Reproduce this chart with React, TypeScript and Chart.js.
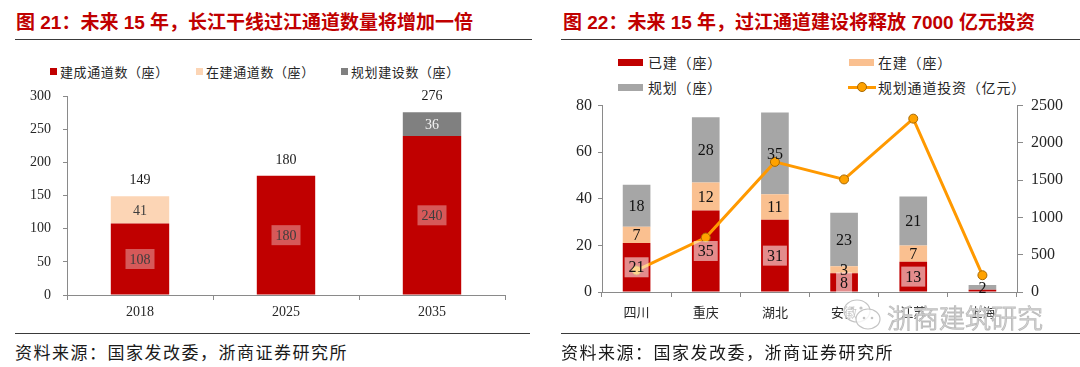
import React, { useEffect, useRef } from 'react';
import { Chart, registerables } from 'chart.js';

Chart.register(...registerables);

// ---------- data ----------
const leftTitle = '图 21：未来 15 年，长江干线过江通道数量将增加一倍';
const rightTitle = '图 22：未来 15 年，过江通道建设将释放 7000 亿元投资';
const sourceText = '资料来源：国家发改委，浙商证券研究所';

const years = ['2018', '2025', '2035'];
const builtCount = [108, 180, 240];
const buildingCount = [41, 0, 0];
const plannedCount = [0, 0, 36];
const leftSeriesNames = ['建成通道数（座）', '在建通道数（座）', '规划建设数（座）'];
const leftYMax = 300;
const leftYStep = 50;

const provinces = ['四川', '重庆', '湖北', '安徽', '江苏', '上海'];
const builtByProvince = [21, 35, 31, 8, 13, 1];
const buildingByProvince = [7, 12, 11, 3, 7, 0];
const plannedByProvince = [18, 28, 35, 23, 21, 2];
const investmentByProvince = [290, 730, 1745, 1510, 2325, 225];
const rightSeriesNames = ['已建（座）', '在建（座）', '规划（座）', '规划通道投资（亿元）'];
const rightYMax = 80;
const rightYStep = 20;
const rightY1Max = 2500;
const rightY1Step = 500;

// ---------- styles ----------
const RED = '#C00000';
const PEACH_L = '#FCD5B5';
const GRAY_L = '#808080';
const PEACH_R = '#FAC090';
const GRAY_R = '#A6A6A6';
const ORANGE = '#FF9900';
const AXIS = '#8a8a8a';
const TEXT = '#262626';
const SERIF = '"Liberation Serif", "Times New Roman", serif';
const CJK = '"Noto Sans CJK SC", sans-serif';

type LabelStyle = { box: string | null; color: string };

function makeLabelPlugin(cfg: {
  styles: LabelStyle[];
  font: string;
  boxH: number;
  padX: number;
  totals: boolean;
  totalOffset: number;
}) {
  return {
    id: 'valueLabels',
    afterDatasetsDraw(chart: any) {
      const ctx = chart.ctx;
      ctx.save();
      ctx.font = cfg.font;
      ctx.textAlign = 'center';
      ctx.textBaseline = 'middle';
      chart.data.datasets.forEach((ds: any, di: number) => {
        if (ds.type === 'line') return;
        const st = cfg.styles[di];
        const meta = chart.getDatasetMeta(di);
        meta.data.forEach((el: any, i: number) => {
          const v = ds.data[i];
          if (!v) return;
          const p = el.getProps(['x', 'y', 'base'], true);
          const h = Math.abs(p.base - p.y);
          if (h < 4) return;
          const cy = (p.y + p.base) / 2;
          const text = String(v);
          const tw = ctx.measureText(text).width;
          if (st.box) {
            ctx.fillStyle = st.box;
            ctx.fillRect(p.x - tw / 2 - cfg.padX, cy - cfg.boxH / 2, tw + cfg.padX * 2, cfg.boxH);
          }
          ctx.fillStyle = st.color;
          ctx.fillText(text, p.x, cy + 1);
        });
      });
      if (cfg.totals) {
        const n = chart.data.labels.length;
        const yScale = chart.scales.y;
        const meta0 = chart.getDatasetMeta(0);
        for (let i = 0; i < n; i++) {
          let sum = 0;
          chart.data.datasets.forEach((ds: any) => {
            if (ds.type !== 'line') sum += ds.data[i] || 0;
          });
          const x = meta0.data[i].x;
          const y = yScale.getPixelForValue(sum) - cfg.totalOffset;
          ctx.fillStyle = '#1a1a1a';
          ctx.fillText(String(sum), x, y);
        }
      }
      ctx.restore();
    },
  };
}

const plainTick = (v: any) => String(v);

function LeftChart() {
  const ref = useRef<HTMLCanvasElement>(null);
  useEffect(() => {
    const chart = new Chart(ref.current!, {
      type: 'bar',
      data: {
        labels: years,
        datasets: [
          { label: leftSeriesNames[0], data: builtCount, backgroundColor: RED },
          { label: leftSeriesNames[1], data: buildingCount, backgroundColor: PEACH_L },
          { label: leftSeriesNames[2], data: plannedCount, backgroundColor: GRAY_L },
        ],
      },
      options: {
        animation: false,
        responsive: false,
        maintainAspectRatio: false,
        layout: { padding: { top: 0, right: 25, left: 0, bottom: 0 } },
        datasets: { bar: { categoryPercentage: 1, barPercentage: 0.4 } },
        plugins: { legend: { display: false }, tooltip: { enabled: false } },
        scales: {
          x: {
            stacked: true,
            grid: { offset: true, drawOnChartArea: false, drawTicks: true, tickLength: 5, color: AXIS },
            border: { color: AXIS },
            ticks: { font: { family: SERIF, size: 14 }, color: TEXT, padding: 4 },
            afterFit: (s: any) => { s.height = 35; },
          },
          y: {
            stacked: true,
            min: 0,
            max: leftYMax,
            grid: { drawOnChartArea: false, drawTicks: true, tickLength: 4, color: AXIS },
            border: { color: AXIS },
            ticks: { stepSize: leftYStep, font: { family: SERIF, size: 14 }, color: TEXT, padding: 12, callback: plainTick },
            afterFit: (s: any) => { s.width = 52; },
          },
        },
      },
      plugins: [
        makeLabelPlugin({
          styles: [
            { box: 'rgba(255,255,255,0.35)', color: '#3d3d3d' },
            { box: null, color: '#3d3d3d' },
            { box: null, color: '#f4f4f4' },
          ],
          font: `14px ${SERIF}`,
          boxH: 20,
          padX: 4,
          totals: true,
          totalOffset: 16,
        }),
      ],
    } as any);
    return () => chart.destroy();
  }, []);
  return (
    <canvas
      ref={ref}
      width={515}
      height={254}
      style={{ position: 'absolute', left: 15, top: 76, width: 515, height: 254 }}
    />
  );
}

function RightChart() {
  const ref = useRef<HTMLCanvasElement>(null);
  useEffect(() => {
    const chart = new Chart(ref.current!, {
      type: 'bar',
      data: {
        labels: provinces,
        datasets: [
          { label: rightSeriesNames[0], data: builtByProvince, backgroundColor: RED, order: 1, yAxisID: 'y' },
          { label: rightSeriesNames[1], data: buildingByProvince, backgroundColor: PEACH_R, order: 1, yAxisID: 'y' },
          { label: rightSeriesNames[2], data: plannedByProvince, backgroundColor: GRAY_R, order: 1, yAxisID: 'y' },
          {
            type: 'line',
            label: rightSeriesNames[3],
            data: investmentByProvince,
            yAxisID: 'y1',
            order: 0,
            borderColor: ORANGE,
            borderWidth: 3,
            pointRadius: 4.5,
            pointBackgroundColor: '#FFA200',
            pointBorderColor: '#A86800',
            pointBorderWidth: 1,
            tension: 0,
          },
        ],
      },
      options: {
        animation: false,
        responsive: false,
        maintainAspectRatio: false,
        layout: { padding: { top: 0, right: 0, left: 0, bottom: 0 } },
        datasets: { bar: { categoryPercentage: 1, barPercentage: 0.4 } },
        plugins: { legend: { display: false }, tooltip: { enabled: false } },
        scales: {
          x: {
            stacked: true,
            grid: { offset: true, drawOnChartArea: false, drawTicks: true, tickLength: 5, color: AXIS },
            border: { color: AXIS },
            ticks: { font: { family: CJK, size: 13 }, color: TEXT, padding: 7 },
            afterFit: (s: any) => { s.height = 38; },
          },
          y: {
            stacked: true,
            position: 'left',
            min: 0,
            max: rightYMax,
            grid: { drawOnChartArea: false, drawTicks: true, tickLength: 4, color: AXIS },
            border: { color: AXIS },
            ticks: { stepSize: rightYStep, font: { family: SERIF, size: 16 }, color: TEXT, padding: 6, callback: plainTick },
            afterFit: (s: any) => { s.width = 41; },
          },
          y1: {
            position: 'right',
            min: 0,
            max: rightY1Max,
            grid: { drawOnChartArea: false, drawTicks: true, tickLength: 6, color: AXIS },
            border: { color: AXIS },
            ticks: { stepSize: rightY1Step, font: { family: SERIF, size: 16 }, color: TEXT, padding: 8, callback: plainTick },
            afterFit: (s: any) => { s.width = 63; },
          },
        },
      },
      plugins: [
        makeLabelPlugin({
          styles: [
            { box: 'rgba(255,255,255,0.55)', color: '#111111' },
            { box: null, color: '#111111' },
            { box: null, color: '#111111' },
          ],
          font: `16px ${SERIF}`,
          boxH: 20,
          padX: 4,
          totals: false,
          totalOffset: 0,
        }),
      ],
    } as any);
    return () => chart.destroy();
  }, []);
  return (
    <canvas
      ref={ref}
      width={519}
      height={242}
      style={{ position: 'absolute', left: 561, top: 88, width: 519, height: 242 }}
    />
  );
}

const abs = (s: React.CSSProperties): React.CSSProperties => ({ position: 'absolute', ...s });

function Title({ text, left }: { text: string; left: number }) {
  return (
    <div
      style={abs({
        left,
        top: 11,
        fontFamily: '"Liberation Sans", "Noto Sans CJK SC", sans-serif',
        fontWeight: 700,
        fontSize: 19,
        lineHeight: '24px',
        color: RED,
        whiteSpace: 'nowrap',
      })}
    >
      {text}
    </div>
  );
}

function Rule({ left, width, top }: { left: number; width: number; top: number }) {
  return <div style={abs({ left, top, width, height: 1, background: '#3a3a3a' })} />;
}

function Source({ left }: { left: number }) {
  return (
    <div
      style={abs({
        left,
        top: 341,
        fontFamily: CJK,
        fontSize: 17,
        lineHeight: '22px',
        letterSpacing: '1.5px',
        color: '#1a1a1a',
        whiteSpace: 'nowrap',
      })}
    >
      {sourceText}
    </div>
  );
}

const legendText: React.CSSProperties = {
  position: 'absolute',
  fontFamily: CJK,
  color: TEXT,
  whiteSpace: 'nowrap',
};

function LeftLegend() {
  const colors = [RED, PEACH_L, GRAY_L];
  const xs = [50, 196, 341];
  return (
    <>
      {leftSeriesNames.map((n, i) => (
        <React.Fragment key={n}>
          <div style={abs({ left: xs[i], top: 68, width: 7, height: 7, background: colors[i] })} />
          <div style={{ ...legendText, left: xs[i] + 10, top: 62, fontSize: 13, lineHeight: '20px', letterSpacing: '0.6px' }}>{n}</div>
        </React.Fragment>
      ))}
    </>
  );
}

function RightLegend() {
  const items = [
    { x: 618, y: 62, color: RED, kind: 'bar' },
    { x: 849, y: 62, color: PEACH_R, kind: 'bar' },
    { x: 618, y: 87, color: GRAY_R, kind: 'bar' },
    { x: 848, y: 87, color: ORANGE, kind: 'line' },
  ];
  return (
    <>
      {items.map((it, i) => (
        <React.Fragment key={i}>
          {it.kind === 'bar' ? (
            <div style={abs({ left: it.x, top: it.y - 3.5, width: 25, height: 7, background: it.color })} />
          ) : (
            <>
              <div style={abs({ left: it.x, top: it.y - 1.5, width: 28, height: 3, background: it.color })} />
              <div
                style={abs({
                  left: it.x + 9,
                  top: it.y - 5,
                  width: 8,
                  height: 8,
                  borderRadius: '50%',
                  background: '#FFA200',
                  border: '1px solid #A86800',
                })}
              />
            </>
          )}
          <div style={{ ...legendText, left: it.x + (i === 1 ? 29 : 30), top: it.y - 11, fontSize: 14, lineHeight: '22px', letterSpacing: '0.8px' }}>
            {rightSeriesNames[i]}
          </div>
        </React.Fragment>
      ))}
    </>
  );
}

function Watermark() {
  return (
    <>
      <svg style={abs({ left: 842, top: 297, width: 42, height: 36 })} viewBox="0 0 42 36">
        <ellipse cx="15" cy="14" rx="13" ry="11" fill="rgba(255,255,255,0.75)" stroke="#c4c4c4" strokeWidth="1.2" />
        <ellipse cx="26" cy="22" rx="12" ry="10" fill="rgba(255,255,255,0.8)" stroke="#c4c4c4" strokeWidth="1.2" />
        <circle cx="10" cy="11" r="1.6" fill="#c4c4c4" />
        <circle cx="19" cy="11" r="1.6" fill="#c4c4c4" />
        <circle cx="22" cy="21" r="1.3" fill="#c4c4c4" />
        <circle cx="30" cy="21" r="1.3" fill="#c4c4c4" />
      </svg>
      <div
        style={abs({
          left: 887,
          top: 301,
          fontFamily: CJK,
          fontSize: 26,
          lineHeight: '32px',
          fontWeight: 300,
          color: 'rgba(255,255,255,0.85)',
          WebkitTextStroke: '1px #bdbdbd',
          textShadow: '0 0 3px rgba(255,255,255,0.9)',
          whiteSpace: 'nowrap',
        } as any)}
      >
        浙商建筑研究
      </div>
    </>
  );
}

export default function App() {
  useEffect(() => {
    document.body.style.margin = '0';
  }, []);
  return (
    <div style={abs({ left: 0, top: 0, width: 1080, height: 367, background: '#ffffff', overflow: 'hidden' })}>
      <Title text={leftTitle} left={16} />
      <Title text={rightTitle} left={563} />
      <Rule left={15} width={517} top={39} />
      <Rule left={561} width={519} top={39} />
      <LeftLegend />
      <RightLegend />
      <LeftChart />
      <RightChart />
      <Watermark />
      <Rule left={15} width={515} top={333} />
      <Rule left={561} width={519} top={333} />
      <Source left={15} />
      <Source left={561} />
    </div>
  );
}
